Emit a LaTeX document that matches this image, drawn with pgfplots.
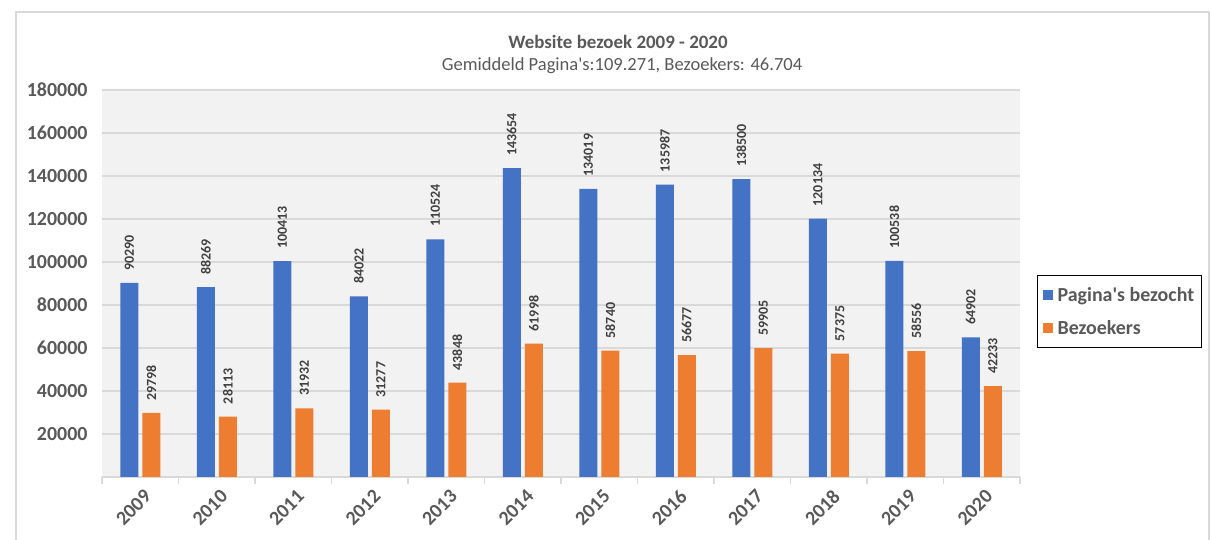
\documentclass[border=0pt]{standalone}
\usepackage{pgfplots}
\pgfplotsset{compat=1.18}
\usepackage{fontspec}
\setmainfont{Carlito}
\definecolor{cblue}{HTML}{4472C4}
\definecolor{corange}{HTML}{ED7D31}
\definecolor{tgray}{HTML}{595959}
\definecolor{lgray}{HTML}{404040}
\definecolor{ggray}{HTML}{D9D9D9}
\definecolor{bgray}{HTML}{F2F2F2}
\begin{document}
\begin{tikzpicture}[x=1bp,y=1bp]
\useasboundingbox (0,0) rectangle (1211,540);
\draw[ggray, line width=1.5bp] (16,-5) rectangle (1209,528);
\node[font=\bfseries\fontsize{19}{19}\selectfont, text=tgray] at (618,498) {Website bezoek 2009 - 2020};
\node[font=\fontsize{18.6}{18}\selectfont, text=tgray] at (622,474) {Gemiddeld Pagina\textquotesingle s:109.271, Bezoekers: 46.704};
\begin{axis}[
  at={(102bp,63bp)}, anchor=south west,
  scale only axis, width=918bp, height=387bp,
  xmin=-0.5, xmax=11.5, ymin=0, ymax=180000,
  axis background/.style={fill=bgray},
  axis x line*=bottom, axis y line*=left,
  y axis line style={draw=none},
  x axis line style={ggray, line width=1.5bp, -},
  ytick={20000,40000,...,180000},
  scaled y ticks=false,
  ymajorgrids, grid style={ggray, line width=1.2bp},
  major y tick style={draw=none},
  yticklabel style={/pgf/number format/.cd, fixed, precision=0, assume math mode=true, 1000 sep={}, /tikz/.cd, font=\bfseries\fontsize{20}{20}\selectfont, text=tgray, xshift=-11bp},
  xtick={0,...,11},
  xticklabels={2009,2010,2011,2012,2013,2014,2015,2016,2017,2018,2019,2020},
  major x tick style={draw=none},
  xticklabel style={rotate=45, anchor=north east, font=\bfseries\fontsize{20}{20}\selectfont, text=tgray, inner sep=3bp, yshift=-4bp},
  extra x ticks={-0.5,0.5,...,11.5},
  extra x tick labels={},
  extra x tick style={major tick length=7bp, tick align=outside, xmajorgrids=false, major x tick style={draw=ggray, line width=1.5bp}},
  ybar=4bp, bar width=18bp,
  nodes near coords={\pgfmathprintnumber[fixed,precision=0,assume math mode=true,1000 sep={}]{\pgfplotspointmeta}},
  every node near coord/.append style={rotate=90, anchor=west, font=\bfseries\fontsize{14}{14}\selectfont, text=lgray, xshift=9bp},
  legend style={at={(1.0185,0.522)}, anchor=north west, draw=black, line width=1.2bp, font=\bfseries\fontsize{20}{20}\selectfont, text=tgray, row sep=13bp, inner xsep=5bp, inner ysep=10bp, /tikz/every odd column/.append style={column sep=3bp}},
  legend cell align=left,
  legend image code/.code={\fill[#1, draw=none] (0bp,-5bp) rectangle (10bp,5bp);},
]
\addplot[fill=cblue, draw=none] coordinates {(0,90290) (1,88269) (2,100413) (3,84022) (4,110524) (5,143654) (6,134019) (7,135987) (8,138500) (9,120134) (10,100538) (11,64902)};
\addplot[fill=corange, draw=none] coordinates {(0,29798) (1,28113) (2,31932) (3,31277) (4,43848) (5,61998) (6,58740) (7,56677) (8,59905) (9,57375) (10,58556) (11,42233)};
\legend{Pagina\textquotesingle s bezocht, Bezoekers}
\end{axis}
\end{tikzpicture}
\end{document}
